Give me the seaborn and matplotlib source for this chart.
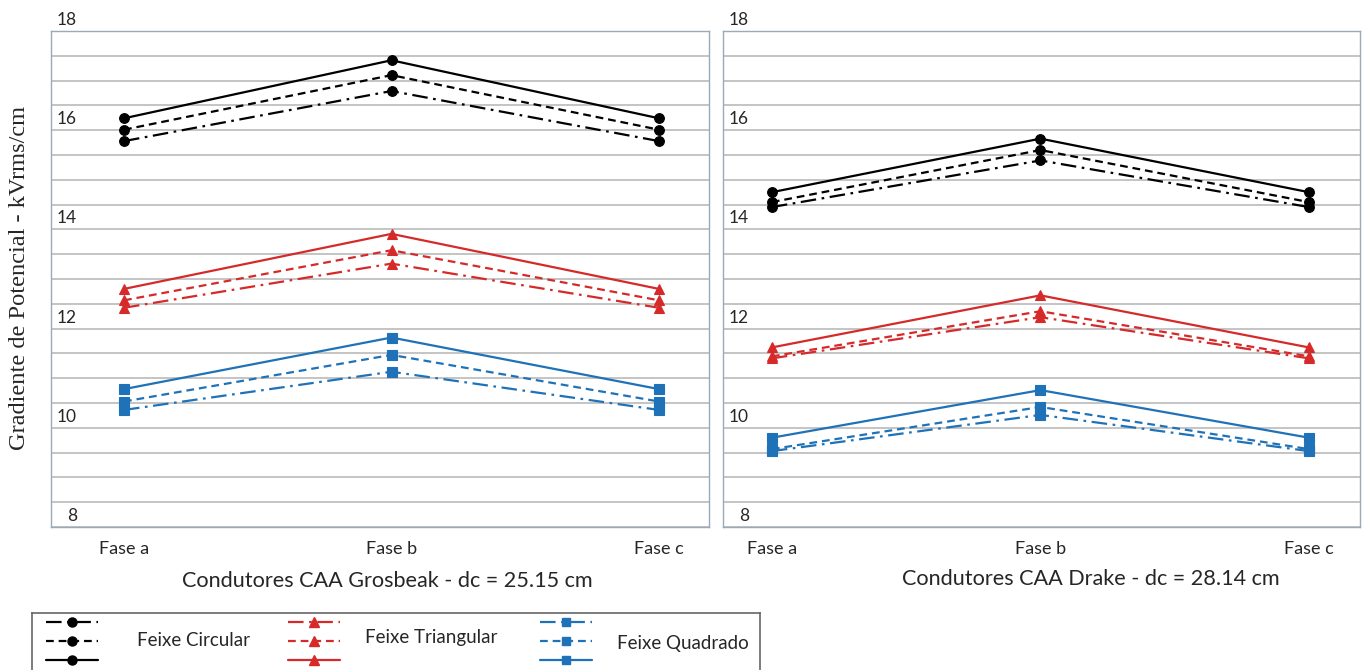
import matplotlib
matplotlib.use('Agg')
import matplotlib.pyplot as plt
import numpy as np
import pandas as pd
import seaborn as sns
from matplotlib.lines import Line2D

# ---------------- data ----------------
fases = ['Fase a', 'Fase b', 'Fase c']
estilos = ['traco-ponto', 'tracejado', 'continuo']

# Condutores CAA Grosbeak - dc = 25.15 cm
grosbeak_circular = {'traco-ponto': [15.78, 16.79, 15.78],
                     'tracejado':   [16.01, 17.11, 16.01],
                     'continuo':    [16.24, 17.41, 16.24]}
grosbeak_triangular = {'traco-ponto': [12.42, 13.31, 12.42],
                       'tracejado':   [12.57, 13.58, 12.57],
                       'continuo':    [12.80, 13.91, 12.80]}
grosbeak_quadrado = {'traco-ponto': [10.36, 11.13, 10.36],
                     'tracejado':   [10.53, 11.47, 10.53],
                     'continuo':    [10.78, 11.82, 10.78]}

# Condutores CAA Drake - dc = 28.14 cm
drake_circular = {'traco-ponto': [14.45, 15.39, 14.45],
                  'tracejado':   [14.55, 15.60, 14.55],
                  'continuo':    [14.75, 15.83, 14.75]}
drake_triangular = {'traco-ponto': [11.40, 12.23, 11.40],
                    'tracejado':   [11.44, 12.35, 11.44],
                    'continuo':    [11.62, 12.67, 11.62]}
drake_quadrado = {'traco-ponto': [9.53, 10.26, 9.53],
                  'tracejado':   [9.57, 10.42, 9.57],
                  'continuo':    [9.80, 10.76, 9.80]}

ytick_vals = [8, 10, 12, 14, 16, 18]
ytick_labels = ['8', '10', '12', '14', '16', '18']

titulos = ['Condutores CAA Grosbeak - dc = 25.15 cm',
           'Condutores CAA Drake - dc = 28.14 cm']
feixes = ['Feixe Circular', 'Feixe Triangular', 'Feixe Quadrado']

# build long-form table
rows = []
tabelas = {'Grosbeak': [grosbeak_circular, grosbeak_triangular, grosbeak_quadrado],
           'Drake': [drake_circular, drake_triangular, drake_quadrado]}
for cond, lst in tabelas.items():
    for feixe, d in zip(feixes, lst):
        for est in estilos:
            for fase, v in zip(fases, d[est]):
                rows.append({'condutor': cond, 'feixe': feixe, 'estilo': est,
                             'fase': fase, 'valor': v})
df = pd.DataFrame(rows)

# ---------------- style ----------------
cores = {'Feixe Circular': '#000000', 'Feixe Triangular': '#d62a2a',
         'Feixe Quadrado': '#1f72b8'}
marcadores = {'Feixe Circular': 'o', 'Feixe Triangular': '^',
              'Feixe Quadrado': 's'}
tam_marc = {'Feixe Circular': 7, 'Feixe Triangular': 7.5, 'Feixe Quadrado': 6.5}
tracos = {'traco-ponto': (0, (7, 2.5, 1.2, 2.5)),
          'tracejado': (0, (3.5, 2.2)),
          'continuo': '-'}

sns.set_theme(style='white')
plt.rcParams['font.family'] = ['Lato', 'DejaVu Sans']

W, H = 1366, 670
fig = plt.figure(figsize=(W / 100, H / 100), dpi=100)
ax1 = fig.add_axes([51 / W, 1 - 527 / H, 658 / W, 496 / H])
ax2 = fig.add_axes([723 / W, 1 - 527 / H, 637 / W, 496 / H])
xlims = [(-0.273, 2.187), (-0.182, 2.19)]

for ax, cond, xl in zip([ax1, ax2], ['Grosbeak', 'Drake'], xlims):
    for feixe in feixes:
        for est in estilos:
            sub = df[(df.condutor == cond) & (df.feixe == feixe) & (df.estilo == est)]
            c = cores[feixe]
            sns.lineplot(data=sub, x='fase', y='valor', ax=ax, sort=False,
                         color=c, marker=marcadores[feixe],
                         markersize=tam_marc[feixe], markeredgecolor=c,
                         markeredgewidth=0.8, linestyle=tracos[est],
                         linewidth=1.6, legend=False, zorder=3)
            ax.lines[-1].set_linestyle(tracos[est])
    ax.set_xlim(*xl)
    ax.set_ylim(8, 18)
    ax.set_yticks(np.arange(8, 18.01, 0.5))
    ax.set_yticklabels([])
    ax.set_xticks(range(len(fases)))
    ax.set_xticklabels(fases)
    ax.tick_params(axis='both', length=0)
    ax.tick_params(axis='x', pad=10, labelsize=13)
    ax.grid(axis='y', color='#bfbfbf', linewidth=1.3)
    ax.grid(axis='x', visible=False)
    ax.set_xlabel('')
    ax.set_ylabel('')
    for s in ax.spines.values():
        s.set_color('#9aaabb')
        s.set_linewidth(1.0)
    for v, lab in zip(ytick_vals, ytick_labels):
        ax.annotate(lab, xy=(0, v), xycoords=('axes fraction', 'data'),
                    xytext=(26, 3), textcoords='offset pixels',
                    ha='right', va='bottom', fontsize=12.5,
                    annotation_clip=False)

fig.text(387 / W, 1 - 581 / H, titulos[0], ha='center', va='center', fontsize=15.6)
fig.text(1091 / W, 1 - 579 / H, titulos[1], ha='center', va='center', fontsize=15.6)
fig.text(20 / W, 1 - 278 / H, 'Gradiente de Potencial - kVrms/cm', rotation=90,
         ha='center', va='center', fontsize=17.6, family='Liberation Serif')

# ---------------- custom legend box ----------------
lax = fig.add_axes([32 / W, 0, 728 / W, 57 / H])
lax.set_xlim(0, 728)
lax.set_ylim(57, 0)
lax.set_xticks([])
lax.set_yticks([])
lax.set_facecolor('white')
for s in lax.spines.values():
    s.set_color('#666666')
    s.set_linewidth(1.2)
lax.spines['bottom'].set_visible(False)

col_x = [14, 256, 508]
lab_x = [105, 333, 585]
lab_y = [27, 24, 30]
row_y = {'traco-ponto': 9, 'tracejado': 28, 'continuo': 47}
for feixe, x0, lx, ly in zip(feixes, col_x, lab_x, lab_y):
    c = cores[feixe]
    for est in estilos:
        y0 = row_y[est]
        lax.add_line(Line2D([x0, x0 + 52], [y0, y0], color=c, lw=1.6,
                            linestyle=tracos[est]))
        lax.add_line(Line2D([x0 + 26], [y0], color=c, marker=marcadores[feixe],
                            markersize=tam_marc[feixe] - 0.5, markeredgecolor=c,
                            linestyle='none'))
    lax.text(lx, ly, feixe, ha='left', va='center', fontsize=13.5)

fig.savefig('out.png', dpi=100, facecolor='white')
